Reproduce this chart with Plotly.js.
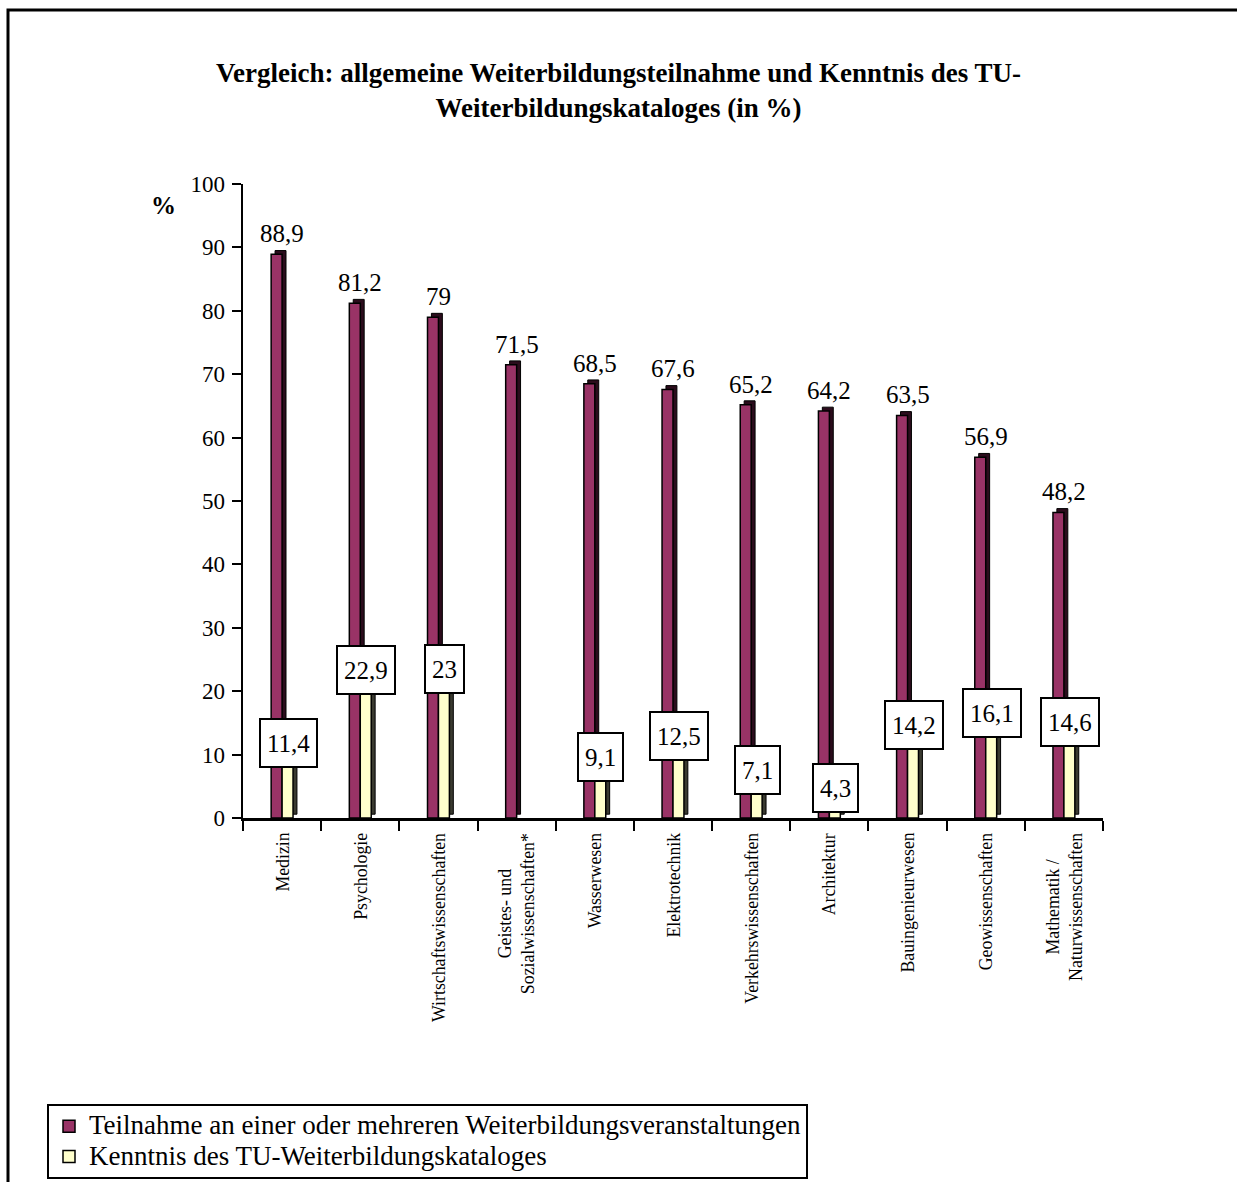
<!DOCTYPE html>
<html>
<head>
<meta charset="utf-8">
<script src="https://cdn.plot.ly/plotly-3.0.1.min.js"></script>
<style>
html,body{margin:0;padding:0;background:#fff;}
#chart{width:1237px;height:1182px;}
</style>
</head>
<body>
<div id="chart"></div>
<script>
const categories = ['Medizin','Psychologie','Wirtschaftswissenschaften','Geistes- und<br>Sozialwissenschaften*','Wasserwesen','Elektrotechnik','Verkehrswissenschaften','Architektur','Bauingenieurwesen','Geowissenschaften','Mathematik /<br>Naturwissenschaften'];
const teilnahme = [88.9,81.2,79,71.5,68.5,67.6,65.2,64.2,63.5,56.9,48.2];
const kenntnis = [11.4,22.9,23,null,9.1,12.5,7.1,4.3,14.2,16.1,14.6];
const seriesNames = ['Teilnahme an einer oder mehreren Weiterbildungsveranstaltungen','Kenntnis des TU-Weiterbildungskataloges'];
const yTicks = [0,10,20,30,40,50,60,70,80,90,100];

const FONT = 'Liberation Serif, Times New Roman, serif';
const fmt = v => String(v).replace('.', ',');
const big = s => '<span style="font-size:27px">' + s + '</span>';

const W = 0.14;
const traces = [
  {type:'bar', x:categories, y:teilnahme, offset:-W+0.05, width:W, base:0.6,
   marker:{color:'#2b0c1c', line:{color:'#000', width:1}}, showlegend:false, hoverinfo:'skip'},
  {type:'bar', x:categories, y:kenntnis, offset:0.05, width:W, base:0.6,
   marker:{color:'#3a3a30', line:{color:'#000', width:1}}, showlegend:false, hoverinfo:'skip'},
  {type:'bar', name:big(seriesNames[0]), x:categories, y:teilnahme, offset:-W, width:W,
   marker:{color:'#993366', line:{color:'#000', width:1.5}}},
  {type:'bar', name:big(seriesNames[1]), x:categories, y:kenntnis, offset:0, width:W,
   marker:{color:'#FFFFCC', line:{color:'#000', width:1.5}}}
];

const annotations = [];
categories.forEach((c,i) => {
  annotations.push({x:c, xref:'x', y:teilnahme[i], yref:'y', yanchor:'bottom', yshift:5,
    text:fmt(teilnahme[i]), showarrow:false, font:{family:FONT, size:25, color:'#000'}});
  if (kenntnis[i] !== null) {
    annotations.push({x:c, xref:'x', y:kenntnis[i], yref:'y', yanchor:'middle', xanchor:'center',
      xshift:6, yshift:3, text:fmt(kenntnis[i]), showarrow:false, height:34, borderpad:6,
      bgcolor:'#fff', bordercolor:'#000', borderwidth:2, font:{family:FONT, size:25, color:'#000'}});
  }
  annotations.push({x:c, xref:'x', y:0, yref:'paper', yanchor:'top', xanchor:'center', yshift:-13,
    textangle:-90, align:'center', text:c, showarrow:false, font:{family:FONT, size:17.8, color:'#000'}});
});
annotations.push({x:-0.109, xref:'paper', y:0.99, yref:'paper', text:'<b>%</b>', showarrow:false,
  font:{family:FONT, size:25, color:'#000'}});

const layout = {
  width:1237, height:1182,
  margin:{l:243, r:134, t:184, b:364, autoexpand:false},
  paper_bgcolor:'#fff', plot_bgcolor:'#fff',
  barmode:'overlay',
  font:{family:FONT, color:'#000'},
  title:{text:'<b>Vergleich: allgemeine Weiterbildungsteilnahme und Kenntnis des TU-<br>Weiterbildungskataloges (in %)</b>',
    x:0.5, xref:'container', y:1-82/1182, yref:'container', yanchor:'top',
    font:{family:FONT, size:27, color:'#000'}},
  xaxis:{type:'category', range:[-0.5,10.5], showticklabels:false, ticks:'outside', tickson:'boundaries',
    ticklen:10, tickwidth:2, tickcolor:'#000', showline:true, linecolor:'#000', linewidth:2.5,
    showgrid:false, zeroline:false, fixedrange:true},
  yaxis:{range:[0,100], tickvals:yTicks, ticktext:yTicks.map(String), ticks:'outside', ticklen:9, tickwidth:2,
    tickcolor:'#000', showline:true, linecolor:'#000', linewidth:2.5, showgrid:false, zeroline:false,
    tickfont:{family:FONT, size:23, color:'#000'}, ticklabelstandoff:2},
  legend:{x:(47-243)/860, xanchor:'left', y:(818-1104)/634, yanchor:'top', bgcolor:'#fff',
    bordercolor:'#000', borderwidth:2, font:{family:FONT, size:21, color:'#000'}, traceorder:'normal',
    itemwidth:30, tracegroupgap:0},
  annotations:annotations,
  shapes:[{type:'rect', xref:'paper', yref:'paper', x0:(8-243)/860, x1:1.4, y0:-1, y1:(818-10)/634,
    line:{color:'#000', width:3}, fillcolor:'rgba(0,0,0,0)', layer:'below'}]
};

Plotly.newPlot('chart', traces, layout, {displayModeBar:false, staticPlot:true});
</script>
</body>
</html>
